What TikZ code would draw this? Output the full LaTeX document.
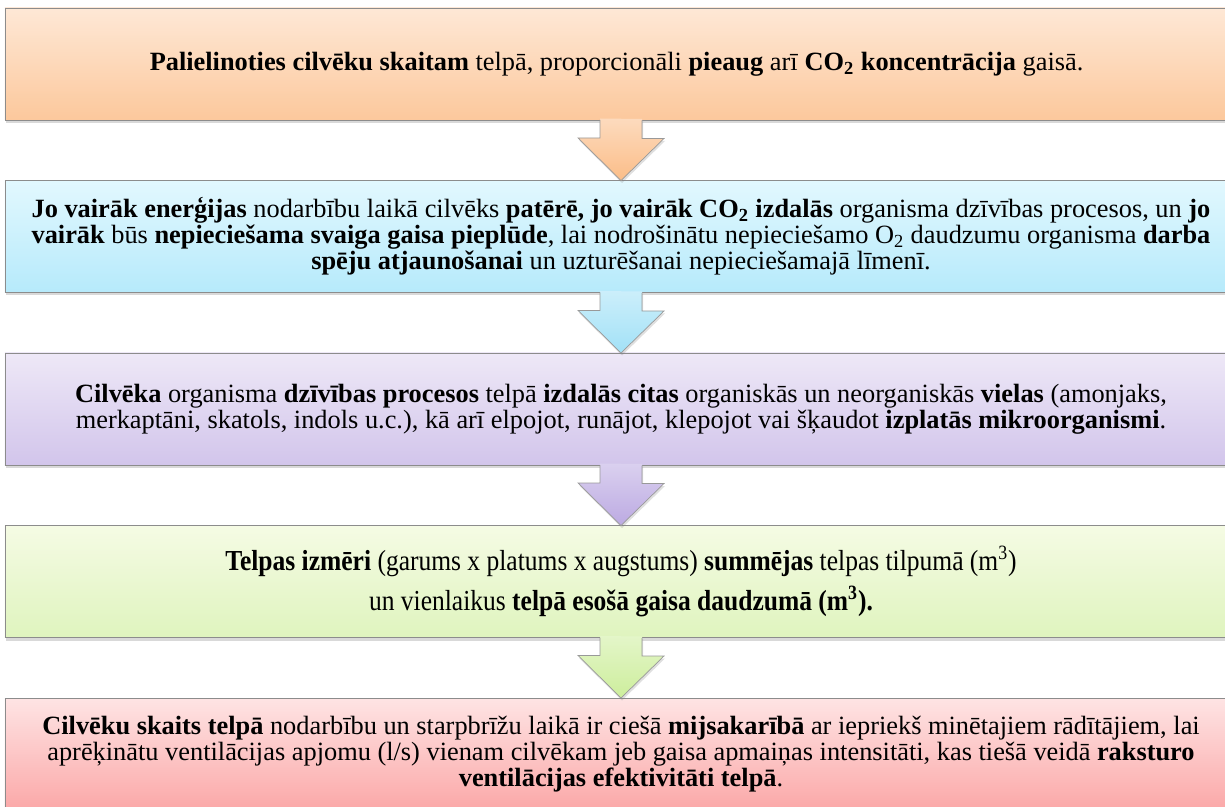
\documentclass[tikz,border=0pt]{standalone}
\usepackage{fontspec}
\setmainfont{LiberationSerif}[
	Extension=.ttf,
	UprightFont=*-Regular,
	BoldFont=*-Bold,
	ItalicFont=*-Italic,
	BoldItalicFont=*-BoldItalic]
\newfontfamily\narrowserif{LiberationSerif}[
	Extension=.ttf,
	UprightFont=*-Regular,
	BoldFont=*-Bold,
	FakeStretch=0.88]
\usetikzlibrary{shadows}

\definecolor{peachTop}{HTML}{FEE8D6}
\definecolor{peachBot}{HTML}{FCC89C}
\definecolor{peachArr}{HTML}{FBBD88}
\definecolor{skyTop}{HTML}{E2F8FE}
\definecolor{skyBot}{HTML}{B6EAFB}
\definecolor{skyArr}{HTML}{A2E1F7}
\definecolor{lilacTop}{HTML}{EEE8F7}
\definecolor{lilacBot}{HTML}{D2C5EB}
\definecolor{lilacArr}{HTML}{BCAAE2}
\definecolor{limeTop}{HTML}{F5FBE4}
\definecolor{limeBot}{HTML}{DFF4BE}
\definecolor{limeArr}{HTML}{CDEE9C}
\definecolor{roseTop}{HTML}{FEE4E4}
\definecolor{roseBot}{HTML}{FBA8A8}

\begin{document}
\begin{tikzpicture}[
	font=\rmfamily\fontsize{15}{14.9}\selectfont,
	panel/.style={
		rectangle, draw=black!45, line width=0.5pt,
		minimum width=24.64cm, minimum height=2.24cm,
		align=center, inner sep=2pt, outer sep=0pt,
		drop shadow={shadow xshift=0.02cm, shadow yshift=-0.06cm, opacity=0.3}
	},
	arrfill/.style={
		drop shadow={shadow xshift=0.02cm, shadow yshift=-0.05cm, opacity=0.25}
	},
	arrline/.style={draw=black!40, line width=0.4pt, line join=miter}
]
\useasboundingbox (0,0) rectangle (24.5,-16.14);

% Column x=12.42, pitch 3.45
\node[panel, top color=peachTop, bottom color=peachBot] (people) at (12.42, -1.28) {
	\textbf{Palielinoties cilvēku skaitam} telpā, proporcionāli \textbf{pieaug} arī \textbf{CO\textsubscript{2} koncentrācija} gaisā.
};
\node[panel, top color=skyTop, bottom color=skyBot] (energy) at (12.42, -4.73) {
	\textbf{Jo vairāk enerģijas} nodarbību laikā cilvēks \textbf{patērē, jo vairāk CO\textsubscript{2} izdalās} organisma dzīvības procesos, un \textbf{jo}\\
	\textbf{vairāk} būs \textbf{nepieciešama svaiga gaisa pieplūde}, lai nodrošinātu nepieciešamo O\textsubscript{2} daudzumu organisma \textbf{darba}\\
	\textbf{spēju atjaunošanai} un uzturēšanai nepieciešamajā līmenī.
};
\node[panel, top color=lilacTop, bottom color=lilacBot] (emission) at (12.42, -8.18) {
	\textbf{Cilvēka} organisma \textbf{dzīvības procesos} telpā \textbf{izdalās citas} organiskās un neorganiskās \textbf{vielas} (amonjaks,\\
	merkaptāni, skatols, indols u.c.), kā arī elpojot, runājot, klepojot vai šķaudot \textbf{izplatās mikroorganismi}.
};
\node[panel, top color=limeTop, bottom color=limeBot,
	font=\narrowserif\fontsize{16.5}{16.5}\selectfont] (volume) at (12.42, -11.63) {
	\textbf{Telpas izmēri} (garums x platums x augstums) \textbf{summējas} telpas tilpumā (m\textsuperscript{3})\\[4.5pt]
	un vienlaikus \textbf{telpā esošā gaisa daudzumā (m\textsuperscript{3}).}
};
\node[panel, top color=roseTop, bottom color=roseBot] (occupancy) at (12.42, -15.08) {
	\textbf{Cilvēku skaits telpā} nodarbību un starpbrīžu laikā ir ciešā \textbf{mijsakarībā} ar iepriekš minētajiem rādītājiem, lai\\
	aprēķinātu ventilācijas apjomu (l/s) vienam cilvēkam jeb gaisa apmaiņas intensitāti, kas tiešā veidā \textbf{raksturo}\\
	\textbf{ventilācijas efektivitāti telpā}.
};

% Block arrows between panels
\foreach \a/\b/\c in {people/energy/peachArr, energy/emission/skyArr, emission/volume/lilacArr, volume/occupancy/limeArr}{
	\path[arrfill, top color=\c!55!white, bottom color=\c]
		([xshift=-0.42cm, yshift=0.03cm]\a.south) -- ++(0,-0.39) -- ++(-0.44,0) -- (\b.north)
		-- ++(0.86,0.84) -- ++(-0.44,0) -- ++(0,0.39) -- cycle;
	\draw[arrline]
		([xshift=-0.42cm]\a.south) -- ++(0,-0.36) -- ++(-0.44,0) -- (\b.north)
		-- ++(0.86,0.84) -- ++(-0.44,0) -- ++(0,0.36);
}

\end{tikzpicture}
\end{document}
